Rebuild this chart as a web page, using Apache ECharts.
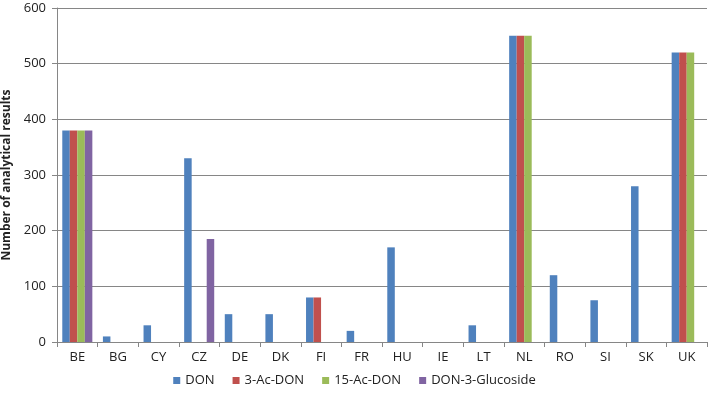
<!DOCTYPE html>
<html><head><meta charset="utf-8">
<script src="https://cdn.jsdelivr.net/npm/echarts@6/dist/echarts.min.js"></script>
<style>html,body{margin:0;padding:0;background:#fff}#c{width:709px;height:402px}</style>
</head><body><div id="c"></div>
<script>
const categories = ['BE','BG','CY','CZ','DE','DK','FI','FR','HU','IE','LT','NL','RO','SI','SK','UK'];
const seriesNames = ['DON','3-Ac-DON','15-Ac-DON','DON-3-Glucoside'];
const don       = [380,10,30,330,50,50,80,20,170,0,30,550,120,75,280,520];
const ac3       = [380,null,null,null,null,null,80,null,null,null,null,550,null,null,null,520];
const ac15      = [380,null,null,null,null,null,null,null,null,null,null,550,null,null,null,520];
const glucoside = [380,null,null,185,null,null,null,null,null,null,null,null,null,null,null,null];
const colors = ['#4F81BD','#C0504D','#9BBB59','#8064A2'];
const FONT = 'Open Sans, Liberation Sans, sans-serif';
const chart = echarts.init(document.getElementById('c'));
const data = [don, ac3, ac15, glucoside];
chart.setOption({
  animation:false,
  color: colors,
  textStyle:{fontFamily:FONT},
  grid:{left:57,right:2,top:8,bottom:60,containLabel:false,outerBoundsMode:'none'},
  legend:{bottom:10,left:'center',itemWidth:7,itemHeight:7,itemGap:18,icon:'rect',
    textStyle:{fontSize:13,color:'#222',fontFamily:FONT},data:seriesNames},
  xAxis:{type:'category',data:categories,
    axisLine:{lineStyle:{color:'#868686'}},
    axisTick:{show:true,alignWithLabel:false,length:5,lineStyle:{color:'#868686'}},
    axisLabel:{color:'#222',fontSize:13,margin:9,fontFamily:FONT}},
  yAxis:{type:'value',min:0,max:600,interval:100,
    name:'Number of analytical results',nameLocation:'middle',nameGap:41,
    nameTextStyle:{fontWeight:'bold',fontSize:12,color:'#222',fontFamily:FONT},
    axisLine:{show:true,lineStyle:{color:'#868686'}},
    axisTick:{show:true,length:5,lineStyle:{color:'#868686'}},
    splitLine:{lineStyle:{color:'#868686'}},
    axisLabel:{color:'#222',fontSize:13,margin:11,fontFamily:FONT}},
  series: seriesNames.map((n,i)=>({name:n,type:'bar',data:data[i],barGap:'0%',barCategoryGap:'26%'}))
});
</script></body></html>
